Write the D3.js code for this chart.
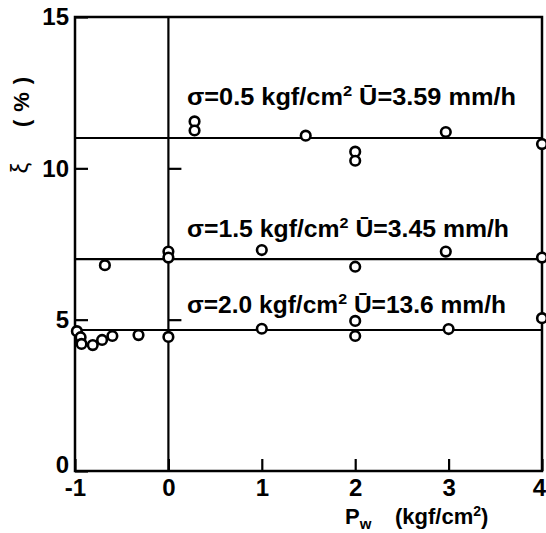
<!DOCTYPE html>
<html>
<head>
<meta charset="utf-8">
<script src="https://cdn.jsdelivr.net/npm/d3@7"></script>
<style>
  html, body { margin: 0; padding: 0; background: #fff; }
  svg { display: block; }
  text { font-family: "Liberation Sans", Arial, sans-serif; fill: #000; }
</style>
</head>
<body>
<svg id="chart" width="546" height="533"></svg>
<script>
// Damping ratio ξ (%) against pore-water pressure Pw (kgf/cm²), three confining stresses
const xTicks = [-1, 0, 1, 2, 3, 4];
const yTicks = [0, 5, 10, 15];

const s05X = [0.28, 0.28, 1.47, 2.0, 2.0, 2.97, 4.0];
const s05Y = [11.55, 11.25, 11.08, 10.55, 10.25, 11.2, 10.8];

const s15X = [-0.68, 0.0, 0.0, 1.0, 2.0, 2.97, 4.0];
const s15Y = [6.8, 7.25, 7.05, 7.3, 6.75, 7.25, 7.05];

const s20X = [-0.98, -0.94, -0.93, -0.81, -0.71, -0.6, -0.32, 0.0, 1.0, 2.0, 2.0, 3.0, 4.0];
const s20Y = [4.62, 4.42, 4.2, 4.16, 4.33, 4.46, 4.49, 4.43, 4.7, 4.96, 4.46, 4.69, 5.05];

const meanLevels = [11.0, 7.0, 4.66];
const seriesSigma = ["0.5", "1.5", "2.0"];
const seriesU = ["3.59", "3.45", "13.6"];

const svg = d3.select("#chart");
const m = { left: 75, right: 542, top: 17, bottom: 471 };

const x = d3.scaleLinear().domain([-1, 4]).range([m.left, m.right]);
const y = d3.scaleLinear().domain([0, 15]).range([m.bottom, m.top]);

// frame
svg.append("rect")
  .attr("x", m.left).attr("y", m.top)
  .attr("width", m.right - m.left).attr("height", m.bottom - m.top)
  .attr("fill", "none").attr("stroke", "#000").attr("stroke-width", 2.5);

// axes with inward ticks
const yAxis = svg.append("g")
  .attr("transform", `translate(${m.left},0)`)
  .call(d3.axisLeft(y).tickValues(yTicks).tickSize(-13).tickPadding(6).tickFormat(d => String(d)));
const xAxis = svg.append("g")
  .attr("transform", `translate(0,${m.bottom})`)
  .call(d3.axisBottom(x).tickValues(xTicks).tickSize(-12).tickPadding(8).tickFormat(d => String(d)));
[yAxis, xAxis].forEach(g => {
  g.select(".domain").remove();
  g.selectAll(".tick line").attr("stroke", "#000").attr("stroke-width", 2.2);
  g.selectAll(".tick text")
    .style("font-family", "'Liberation Sans', Arial, sans-serif")
    .attr("font-size", 24).attr("font-weight", "bold").attr("fill", "#000");
});
// corner labels nudged clear of each other and of the page edge
yAxis.selectAll(".tick text").filter(d => d === 0).attr("y", -6);
xAxis.selectAll(".tick text").filter(d => d === 4).attr("x", -3);

// vertical line at Pw = 0 with its own ticks
svg.append("line")
  .attr("x1", x(0)).attr("x2", x(0)).attr("y1", m.top).attr("y2", m.bottom)
  .attr("stroke", "#000").attr("stroke-width", 2.2);
const zAxis = svg.append("g")
  .attr("transform", `translate(${x(0)},0)`)
  .call(d3.axisRight(y).tickValues([5, 10]).tickSize(13).tickFormat(""));
zAxis.select(".domain").remove();
zAxis.selectAll(".tick line").attr("stroke", "#000").attr("stroke-width", 2.2);

// mean level lines
svg.selectAll("line.mean").data(meanLevels).join("line")
  .attr("class", "mean")
  .attr("x1", m.left).attr("x2", m.right)
  .attr("y1", d => y(d)).attr("y2", d => y(d))
  .attr("stroke", "#000").attr("stroke-width", 2.1);

// series annotations
const labelBase = [105, 237, 313];
const labelLen = [329, 322, 319];
seriesSigma.forEach((s, i) => {
  const t = svg.append("text")
    .attr("x", 187).attr("y", labelBase[i])
    .attr("font-size", 23).attr("font-weight", "bold");
  t.append("tspan").text(`σ=${s} kgf/cm`);
  t.append("tspan").attr("font-size", 15).attr("dy", -9).text("2");
  t.append("tspan").attr("dy", 9).text(`  Ū=${seriesU[i]} mm/h`);
  t.attr("textLength", labelLen[i]).attr("lengthAdjust", "spacingAndGlyphs");
});

// points
const series = [[s05X, s05Y], [s15X, s15Y], [s20X, s20Y]];
series.forEach(([xs, ys]) => {
  svg.append("g").selectAll("circle").data(xs.map((v, i) => [v, ys[i]])).join("circle")
    .attr("cx", d => x(d[0])).attr("cy", d => y(d[1])).attr("r", 4.8)
    .attr("fill", "#fff").attr("stroke", "#000").attr("stroke-width", 2.6);
});

// axis titles
svg.append("text")
  .attr("transform", "translate(28,168) rotate(-90)")
  .attr("text-anchor", "middle").attr("font-size", 24).text("ξ");
svg.append("text")
  .attr("transform", "translate(29,102) rotate(-90)")
  .attr("text-anchor", "middle").attr("font-size", 22).attr("font-weight", "bold")
  .attr("textLength", 50).attr("lengthAdjust", "spacing")
  .text("(%)");

const xt = svg.append("text").attr("x", 345).attr("y", 524)
  .attr("font-size", 22).attr("font-weight", "bold");
xt.append("tspan").text("P");
xt.append("tspan").attr("font-size", 15).attr("dy", 5).text("w");
xt.append("tspan").attr("dy", -5).attr("x", 395).text("(kgf/cm");
xt.append("tspan").attr("font-size", 14).attr("dy", -8).text("2");
xt.append("tspan").attr("dy", 8).text(")");
</script>
</body>
</html>
